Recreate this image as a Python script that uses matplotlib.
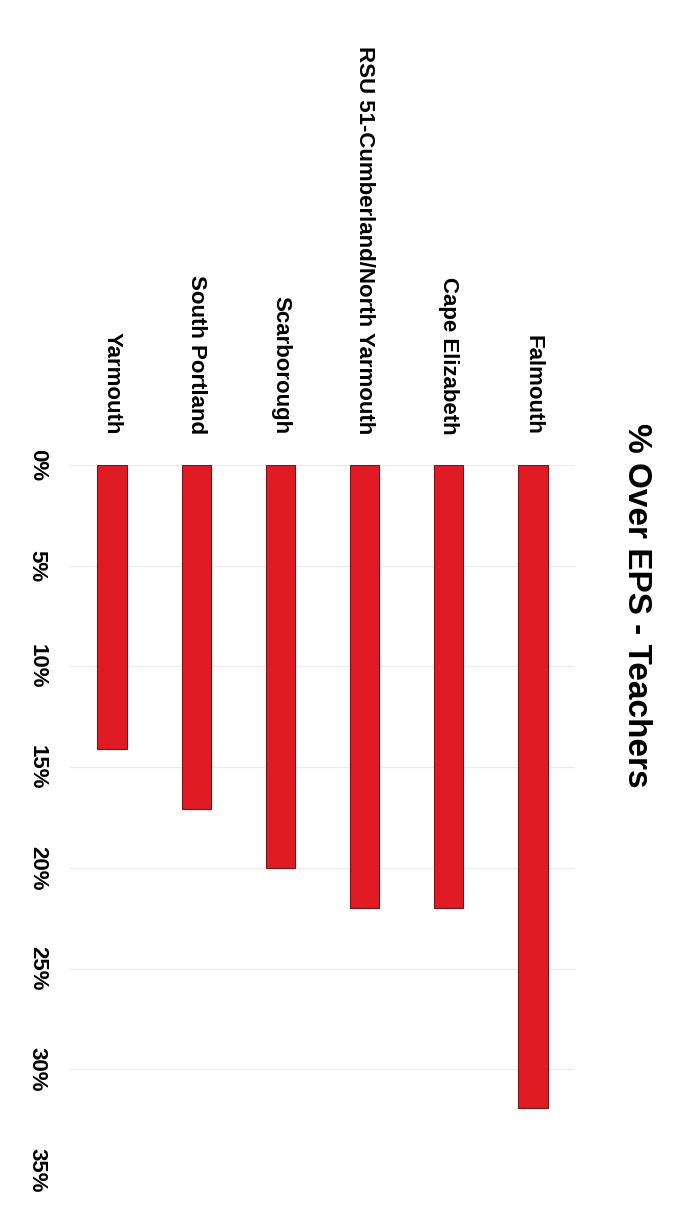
import matplotlib.pyplot as plt
from matplotlib.ticker import FuncFormatter

# districts, listed left to right as they appear in the (rotated) scan
districts = ['Yarmouth', 'South Portland', 'Scarborough',
             'RSU 51-Cumberland/North Yarmouth', 'Cape Elizabeth', 'Falmouth']
pct_over = [14.1, 17.1, 20.0, 22.0, 22.0, 31.9]
value_ticks = [0, 5, 10, 15, 20, 25, 30, 35]

label_font = ['Liberation Sans', 'DejaVu Sans']

fig = plt.figure(figsize=(7, 12.22), dpi=100)
ax = fig.add_axes([0.1, 0.0426, 0.7214, 0.5769])

x = list(range(len(districts)))
ax.bar(x, pct_over, width=0.35, color='#e01b24', edgecolor='#7a1418', linewidth=0.8, zorder=3)

ax.set_xlim(-0.5, len(districts) - 0.5)
ax.set_ylim(35, 0)  # values run downward in the rotated page
ax.set_yticks(value_ticks)
ax.yaxis.set_major_formatter(FuncFormatter(lambda v, p: '%d%%' % v))
ax.grid(axis='y', color='#ececec', linewidth=1, zorder=0)

ax.xaxis.tick_top()
ax.set_xticks(x)
ax.set_xticklabels(districts, rotation=270, family=label_font, fontweight='bold', fontsize=16)
ax.tick_params(axis='x', length=0, pad=22)
for t in ax.get_yticklabels():
    t.set_rotation(270)
    t.set_verticalalignment('center')
    t.set_family(label_font)
    t.set_fontweight('bold')
    t.set_fontsize(16)
ax.tick_params(axis='y', length=0, pad=16)

for s in ax.spines.values():
    s.set_visible(False)

fig.text(0.91, 0.505, '% Over EPS - Teachers', rotation=270, ha='center', va='center',
         fontsize=24, fontweight='bold', family=['Liberation Sans', 'DejaVu Sans'])

fig.savefig('out.png', dpi=100)
